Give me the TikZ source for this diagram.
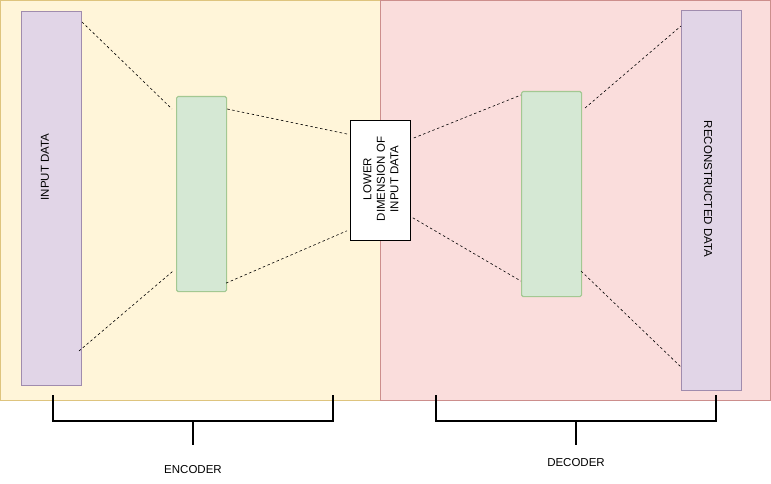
\documentclass[tikz,border=0pt]{standalone}
\usepackage{fontspec}
\setmainfont{Liberation Sans}
\begin{document}
\begin{tikzpicture}[x=1pt,y=-1pt,
  every node/.style={font=\fontsize{11.5}{13.5}\selectfont, inner sep=0pt},
  panel/.style={draw, line width=0.8pt},
  databox/.style={draw=purpleline, fill=purplefill, line width=1pt, minimum width=60pt},
  layerbox/.style={draw=greenline, fill=greenfill, line width=1.1pt, rounded corners=1.5pt},
  codebox/.style={draw=black, fill=white, line width=0.8pt, minimum width=60pt, minimum height=120pt},
  link/.style={dashed, dash pattern=on 2.5pt off 2.5pt, line width=0.6pt},
  brace/.style={line width=2pt, line cap=butt},
  lbl/.style={text=black}]
\definecolor{yellowfill}{HTML}{FFF5D9}
\definecolor{yellowline}{HTML}{DEC47E}
\definecolor{pinkfill}{HTML}{FADDDC}
\definecolor{pinkline}{HTML}{CC8E8C}
\definecolor{purplefill}{HTML}{E1D5E7}
\definecolor{purpleline}{HTML}{A08CAE}
\definecolor{greenfill}{HTML}{D5E8D4}
\definecolor{greenline}{HTML}{A3C892}
\useasboundingbox (0,0) rectangle (771,484);
\fill[white] (0,0) rectangle (771,484);
% panels
\node[panel, draw=yellowline, fill=yellowfill, minimum width=380pt, minimum height=400pt, anchor=north west] (enc) at (0,0) {};
\node[panel, draw=pinkline, fill=pinkfill, minimum width=390pt, minimum height=400pt, anchor=north west] (dec) at (380,0) {};
% boxes
\node[databox, minimum height=374pt, anchor=north west] (in) at (21,11) {};
\node[lbl, rotate=90] (intext) at (45,167) {INPUT DATA};
\node[layerbox, minimum width=50pt, minimum height=195pt, anchor=north west] (g1) at (176,96) {};
\node[codebox, anchor=north west] (code) at (350,120) {};
\node[lbl, rotate=90, align=center] (codetext) at (381,179) {LOWER\\DIMENSION OF\\INPUT DATA};
\node[layerbox, minimum width=60pt, minimum height=205pt, anchor=north west] (g2) at (521,91) {};
\node[databox, minimum height=380pt, anchor=north west] (out) at (681,10) {};
\node[lbl, rotate=-90] (outtext) at (708,189) {RECONSTRUCTED DATA};
% dashed connectors
\draw[link] ([yshift=-11pt]in.north east) -- ([xshift=-4pt,yshift=-13pt]g1.north west);
\draw[link] ([xshift=-3pt,yshift=35pt]in.south east) -- ([xshift=-3pt,yshift=21pt]g1.south west);
\draw[link] ([yshift=-13pt]g1.north east) -- ([xshift=-3pt,yshift=-14pt]code.north west);
\draw[link] ([xshift=-1pt,yshift=9pt]g1.south east) -- ([xshift=-3pt,yshift=10pt]code.south west);
\draw[link] ([xshift=3pt,yshift=-18pt]code.north east) -- ([yshift=-4pt]g2.north west);
\draw[link] ([xshift=2pt,yshift=23pt]code.south east) -- ([yshift=16pt]g2.south west);
\draw[link] ([xshift=3pt,yshift=-17pt]g2.north east) -- ([yshift=-16pt]out.north west);
\draw[link] ([xshift=-1pt,yshift=26pt]g2.south east) -- ([xshift=1pt,yshift=23pt]out.south west);
% brackets
\coordinate (encL) at (53,395);
\coordinate (encR) at (333,395);
\coordinate (encS) at (193,445);
\draw[brace] (encL) -- (53,421) -- (333,421) -- (encR);
\draw[brace] (193,421) -- (encS);
\node[lbl] (enclabel) at (193,470) {ENCODER};
\coordinate (decL) at (436,395);
\coordinate (decR) at (716,395);
\coordinate (decS) at (576,445);
\draw[brace] (decL) -- (436,421) -- (716,421) -- (decR);
\draw[brace] (576,421) -- (decS);
\node[lbl] (declabel) at (576,463) {DECODER};
\end{tikzpicture}
\end{document}
